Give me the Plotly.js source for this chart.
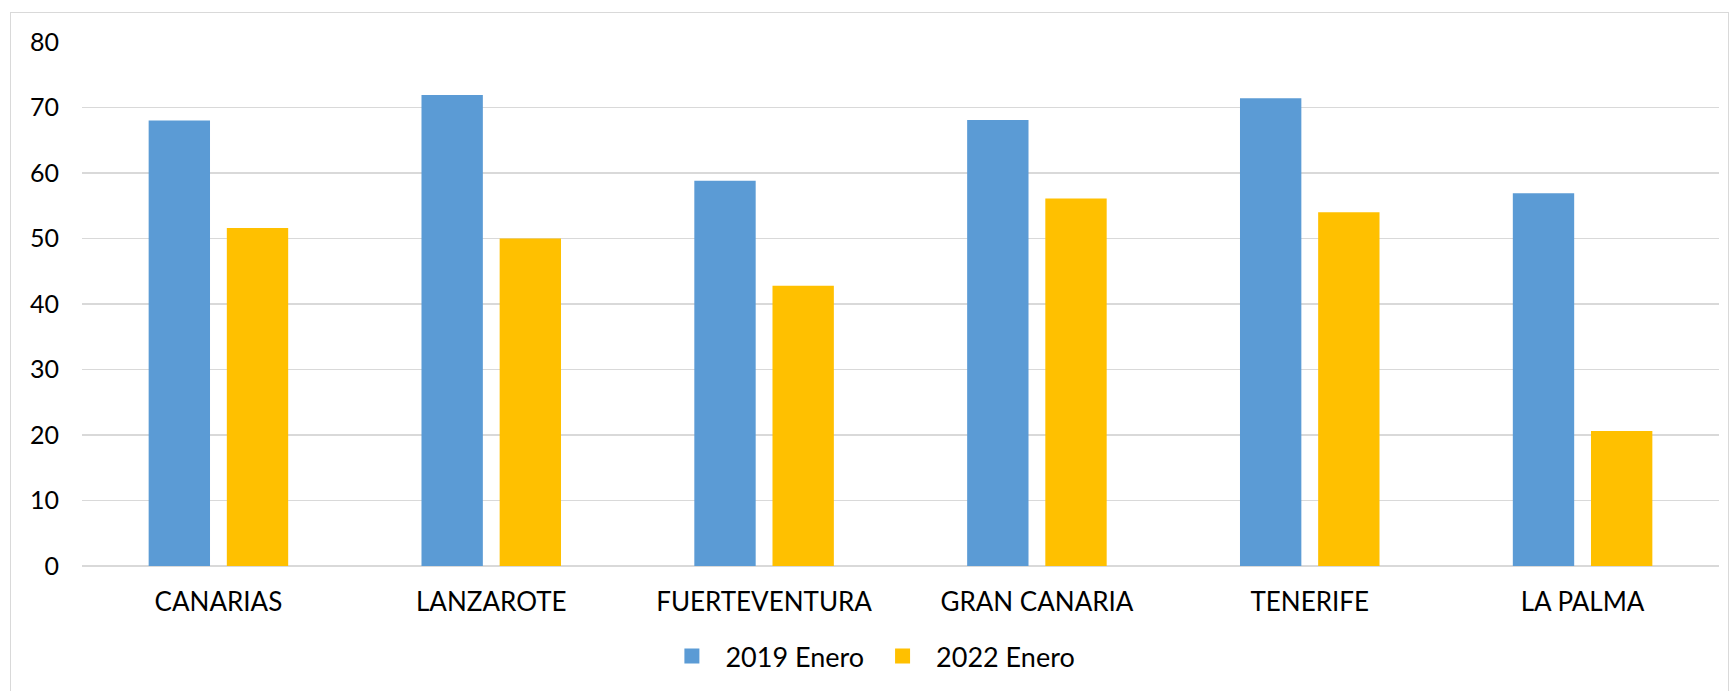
<!DOCTYPE html>
<html>
<head>
<meta charset="utf-8">
<script src="https://cdn.plot.ly/plotly-3.0.1.min.js"></script>
<style>
  html, body { margin: 0; padding: 0; background: #fff; }
  #wrap { position: relative; width: 1735px; height: 691px; }
  #chart { position: absolute; left: 0; top: 0; width: 1735px; height: 691px; }
  #frame { position: absolute; left: 10px; top: 12px; width: 1717px; height: 700px;
           border: 1.5px solid #d9d9d9; pointer-events: none; }
</style>
</head>
<body>
<div id="wrap">
  <div id="chart"></div>
  <div id="frame"></div>
</div>
<script>
const categories = ["CANARIAS", "LANZAROTE", "FUERTEVENTURA", "GRAN CANARIA", "TENERIFE", "LA PALMA"];
const series2019 = [68.0, 71.9, 58.8, 68.1, 71.4, 56.9];
const series2022 = [51.6, 50.0, 42.8, 56.1, 54.0, 20.6];
const seriesNames = ["2019 Enero", "2022 Enero"];
const yTicks = [0, 10, 20, 30, 40, 50, 60, 70, 80];

const colors = ["#5b9bd5", "#ffc000"];
const fontFam = "Lato, 'DejaVu Sans', sans-serif";

const traces = [
  { type: "bar", x: categories, y: series2019, name: seriesNames[0],
    marker: { color: colors[0] }, showlegend: false, hoverinfo: "skip" },
  { type: "bar", x: categories, y: series2022, name: seriesNames[1],
    marker: { color: colors[1] }, showlegend: false, hoverinfo: "skip" },
  { type: "scatter", mode: "markers", x: [null], y: [null], name: seriesNames[0],
    marker: { color: colors[0], symbol: "square", size: 15 }, showlegend: true },
  { type: "scatter", mode: "markers", x: [null], y: [null], name: seriesNames[1],
    marker: { color: colors[1], symbol: "square", size: 15 }, showlegend: true }
];

const layout = {
  width: 1735, height: 691,
  margin: { l: 82, r: 16, t: 42, b: 125, pad: 0, autoexpand: false },
  paper_bgcolor: "rgba(0,0,0,0)",
  plot_bgcolor: "rgba(0,0,0,0)",
  barmode: "group",
  bargap: 0.427,
  bargroupgap: 0.215,
  font: { family: fontFam, size: 26, color: "#000" },
  xaxis: {
    type: "category",
    showgrid: false, zeroline: false, showline: false,
    ticks: "", tickfont: { family: fontFam, size: 26, color: "#000" },
    ticklabelstandoff: 18
  },
  yaxis: {
    range: [0, 80], tickvals: yTicks, ticktext: yTicks.map(String),
    showgrid: true, gridcolor: "#d9d9d9", gridwidth: 1.5,
    zeroline: true, zerolinecolor: "#d9d9d9", zerolinewidth: 1.5,
    showline: false, ticks: "",
    tickfont: { family: fontFam, size: 25, color: "#000" },
    ticklabelstandoff: 22
  },
  showlegend: true,
  legend: {
    orientation: "h", x: 0.481, xanchor: "center", xref: "paper",
    yref: "container", y: 0.05, yanchor: "middle",
    font: { family: fontFam, size: 27, color: "#000" },
    itemwidth: 57, traceorder: "normal",
    bgcolor: "rgba(0,0,0,0)"
  }
};

Plotly.newPlot("chart", traces, layout, { staticPlot: true, displayModeBar: false });
</script>
</body>
</html>
